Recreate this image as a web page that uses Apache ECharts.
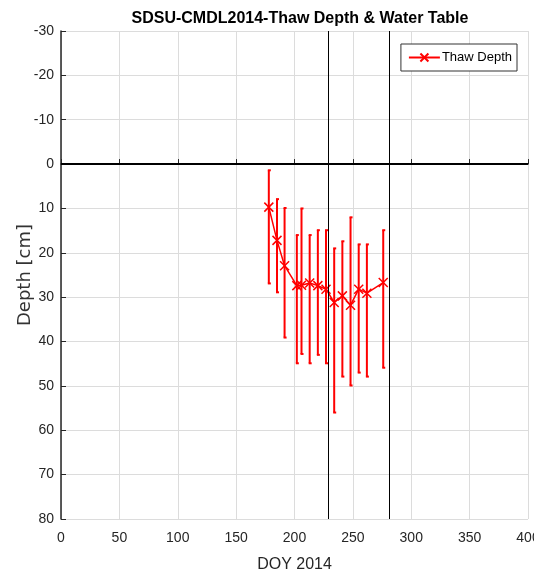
<!DOCTYPE html>
<html><head><meta charset="utf-8">
<script src="https://cdn.jsdelivr.net/npm/echarts@6/dist/echarts.min.js"></script>
<style>html,body{margin:0;padding:0;background:#fff}#c{width:534px;height:577px}</style>
</head><body><div id="c"></div>
<script>
const doy    = [178, 185, 191.5, 202, 206, 213, 220, 227, 234, 241, 248, 255, 262, 276];
const depth  = [9.7, 17.2, 22.9, 27.4, 27.3, 26.8, 27.4, 28.2, 31.2, 29.7, 31.8, 28.2, 29.1, 26.7];
const errTop = [1.4, 7.9, 9.9, 16.0, 10.0, 16.0, 14.9, 14.9, 19.0, 17.4, 12.0, 18.1, 18.1, 14.9];
const errBot = [26.9, 28.9, 39.1, 44.9, 42.8, 44.9, 43.0, 44.9, 56.0, 47.9, 49.9, 47.0, 47.9, 45.9];
const vLines = [229, 281];
const xTicks = {min: 0, max: 400, interval: 50};
const yTicks = {min: -30, max: 80, interval: 10};

const chart = echarts.init(document.getElementById('c'));
const crossPath = 'path://M0,0 L10,10 M10,0 L0,10';
const sans = '"Liberation Sans", Arial, sans-serif';
chart.setOption({
  animation: false,
  backgroundColor: '#fff',
  title: {
    text: 'SDSU-CMDL2014-Thaw Depth & Water Table',
    left: 295, textAlign: 'center', top: 6,
    textStyle: {fontFamily: sans, fontSize: 16, fontWeight: 'bold', color: '#000'}
  },
  legend: {
    right: 17, top: 44,
    backgroundColor: '#fff', borderColor: '#333', borderWidth: 1,
    padding: [7, 5, 7, 7],
    itemWidth: 31, itemHeight: 10, itemGap: 4,
    textStyle: {fontFamily: sans, fontSize: 13, color: '#000', padding: [0,0,0,-3]},
    data: ['Thaw Depth']
  },
  grid: {left: 61, right: 6, top: 31, bottom: 58, containLabel: false, outerBoundsMode: 'none'},
  xAxis: {
    type: 'value', min: xTicks.min, max: xTicks.max, interval: xTicks.interval,
    name: 'DOY 2014', nameLocation: 'middle', nameGap: 38, nameMoveOverlap: false,
    nameTextStyle: {fontFamily: sans, fontSize: 16, color: '#262626'},
    axisLine: {show: true, lineStyle: {color: '#262626', width: 1.5}},
    axisTick: {show: true, inside: true, length: 5, lineStyle: {color: '#262626'}},
    axisLabel: {fontFamily: sans, fontSize: 14, color: '#262626', margin: 12},
    splitLine: {show: true, lineStyle: {color: '#dcdcdc', width: 1}}
  },
  yAxis: {
    type: 'value', inverse: true, min: yTicks.min, max: yTicks.max, interval: yTicks.interval,
    name: 'Depth [cm]', nameLocation: 'middle', nameGap: 27, nameRotate: 90, nameMoveOverlap: false,
    nameTextStyle: {fontFamily: '"DejaVu Sans", sans-serif', fontSize: 18, color: '#333'},
    axisLine: {show: true, lineStyle: {color: '#262626', width: 1.5}},
    axisTick: {show: true, inside: true, length: 5, lineStyle: {color: '#262626'}},
    axisLabel: {fontFamily: sans, fontSize: 14, color: '#262626', margin: 7},
    splitLine: {show: true, lineStyle: {color: '#dcdcdc', width: 1}}
  },
  series: [
    {
      type: 'custom', name: 'err', silent: true,
      data: doy.map((d, i) => [d, errTop[i], errBot[i]]),
      renderItem: function (params, api) {
        const x = api.value(0), lo = api.value(1), hi = api.value(2);
        const p1 = api.coord([x, lo]), p2 = api.coord([x, hi]);
        const st = {stroke: '#ff0000', lineWidth: 2};
        return {type: 'group', children: [
          {type: 'line', shape: {x1: p1[0], y1: p1[1], x2: p2[0], y2: p2[1]}, style: st},
          {type: 'line', shape: {x1: p1[0] - 1, y1: p1[1], x2: p1[0] + 2, y2: p1[1]}, style: st},
          {type: 'line', shape: {x1: p2[0] - 1, y1: p2[1], x2: p2[0] + 2, y2: p2[1]}, style: st}
        ]};
      },
      z: 3
    },
    {
      type: 'line', name: 'Thaw Depth',
      data: doy.map((d, i) => [d, depth[i]]),
      symbol: crossPath, symbolSize: 9, showSymbol: true,
      lineStyle: {color: '#ff0000', width: 1.5},
      itemStyle: {color: '#ff0000', borderColor: '#ff0000', borderWidth: 1.5},
      z: 4,
      markLine: {
        silent: true, symbol: 'none', label: {show: false},
        data: [
          {yAxis: 0, lineStyle: {color: '#000', width: 2, type: 'solid'}},
          ...vLines.map(v => ({xAxis: v, lineStyle: {color: '#000', width: 1, type: 'solid'}}))
        ]
      }
    }
  ]
});
</script></body></html>
